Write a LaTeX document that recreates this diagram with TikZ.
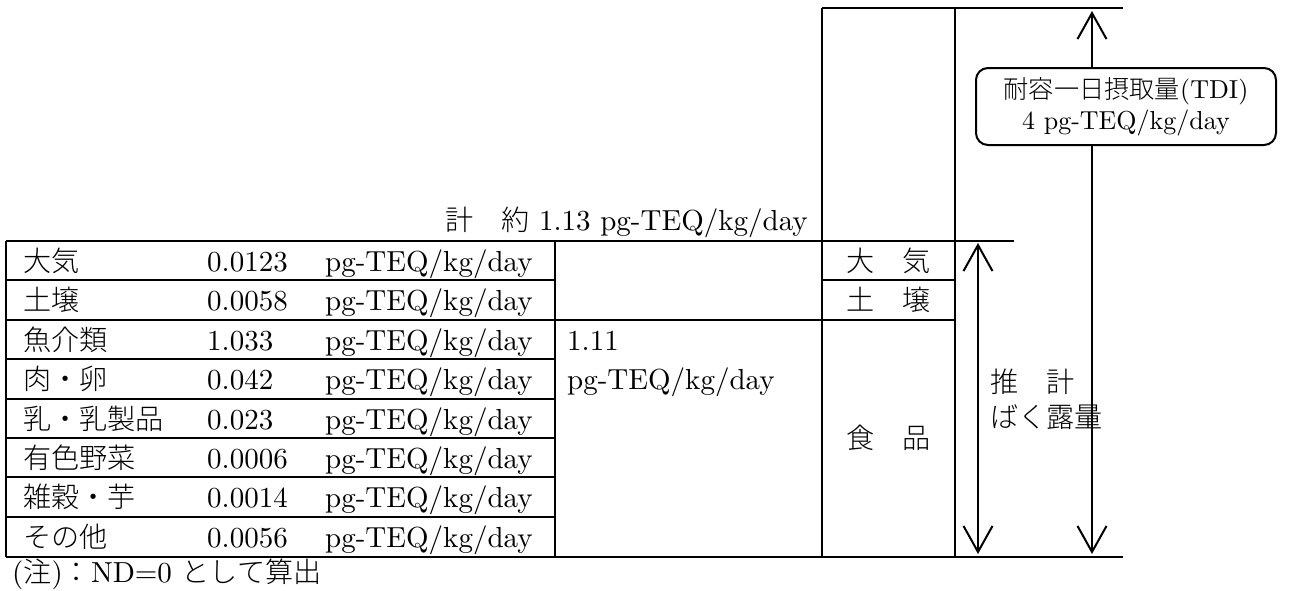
\documentclass[tikz,border=0pt]{standalone}
\usepackage{fontspec}
\setmainfont{lmroman10-regular.otf}
\newfontfamily\jp{Noto Sans CJK JP}[Scale=0.97, UprightFont={* Light}]
\usetikzlibrary{arrows.meta}
\def\items{%
    大気/0.0123,
    土壌/0.0058,
    魚介類/1.033,
    肉・卵/0.042,
    乳・乳製品/0.023,
    有色野菜/0.0006,
    雑穀・芋/0.0014,
    その他/0.0056}

\begin{document}
\begin{tikzpicture}[
    x=1pt, y=-1pt,
    every node/.style={inner sep=0pt, font=\fontsize{29}{35}\selectfont},
    jpn/.style={font=\fontsize{29}{35}\selectfont\jp},
    rule/.style={line width=2pt},
    dim/.style={line width=2pt, {Straight Barb[length=26pt, width=29pt]}-{Straight Barb[length=26pt, width=29pt]}}
]
  \useasboundingbox (0,0) rectangle (1291,590);

  % frame
  \draw[rule] (822,8) -- (1123,8);
  \draw[rule] (6,241) -- (1014,241);
  \draw[rule] (6,556.7) -- (1123,556.7);
  \draw[rule] (6,241) -- (6,556.7) (555,241) -- (555,556.7)
              (822,8) -- (822,556.7) (955,8) -- (955,556.7);
  \foreach \y in {1,...,7}
    \draw[rule] (6,241+39.4*\y) -- (555,241+39.4*\y);
  \draw[rule] (555,319.8) -- (955,319.8);
  \draw[rule] (822,280.4) -- (955,280.4);

  % rows
  \node
    foreach \nm/\val [count=\y] in \items
      [jpn, anchor=base west] (name\y) at (23, 232.1+39.4*\y) {\nm};
  \node
    foreach \nm/\val [count=\y] in \items
      [anchor=base west] (val\y) at (207, 232.1+39.4*\y) {\val};
  \node
    foreach \nm/\val [count=\y] in \items
      [anchor=base west] (unit\y) at (325, 232.1+39.4*\y) {pg-TEQ/kg/day};

  \node[anchor=base west] (food sum) at (567,350.3) {1.11};
  \node[anchor=base west] (food unit) at (567,389.7) {pg-TEQ/kg/day};
  \node[anchor=base east] (total) at (808,230) {{\jp 計　約} 1.13 pg-TEQ/kg/day};

  \node[jpn, anchor=base] (air) at (888.5,271.5) {大　気};
  \node[jpn, anchor=base] (soil) at (888.5,310.9) {土　壌};
  \node[jpn, anchor=base] (food) at (888.5,448) {食　品};

  % arrows
  \coordinate (est top) at (978,243);
  \coordinate (est bot) at (978,554);
  \coordinate (tdi top) at (1092,11);
  \coordinate (tdi bot) at (1092,554);
  \draw[dim] (est top) -- (est bot);
  \draw[dim] (tdi top) -- (tdi bot);
  \node[jpn, anchor=west, align=left] (est) at (990,399) {推　計\\ばく露量};
  \node[rule, draw, fill=white, rounded corners=12pt, minimum width=300pt, minimum height=77pt,
        align=center, font=\fontsize{26}{31}\selectfont] (tdi) at (1126,106.5)
        {{\jp 耐容一日摂取量}(TDI)\\4 pg-TEQ/kg/day};

  \node[anchor=base west] (note) at (12,582) {({\jp 注}){\jp ：}ND=0 {\jp として算出}};

\end{tikzpicture}
\end{document}
